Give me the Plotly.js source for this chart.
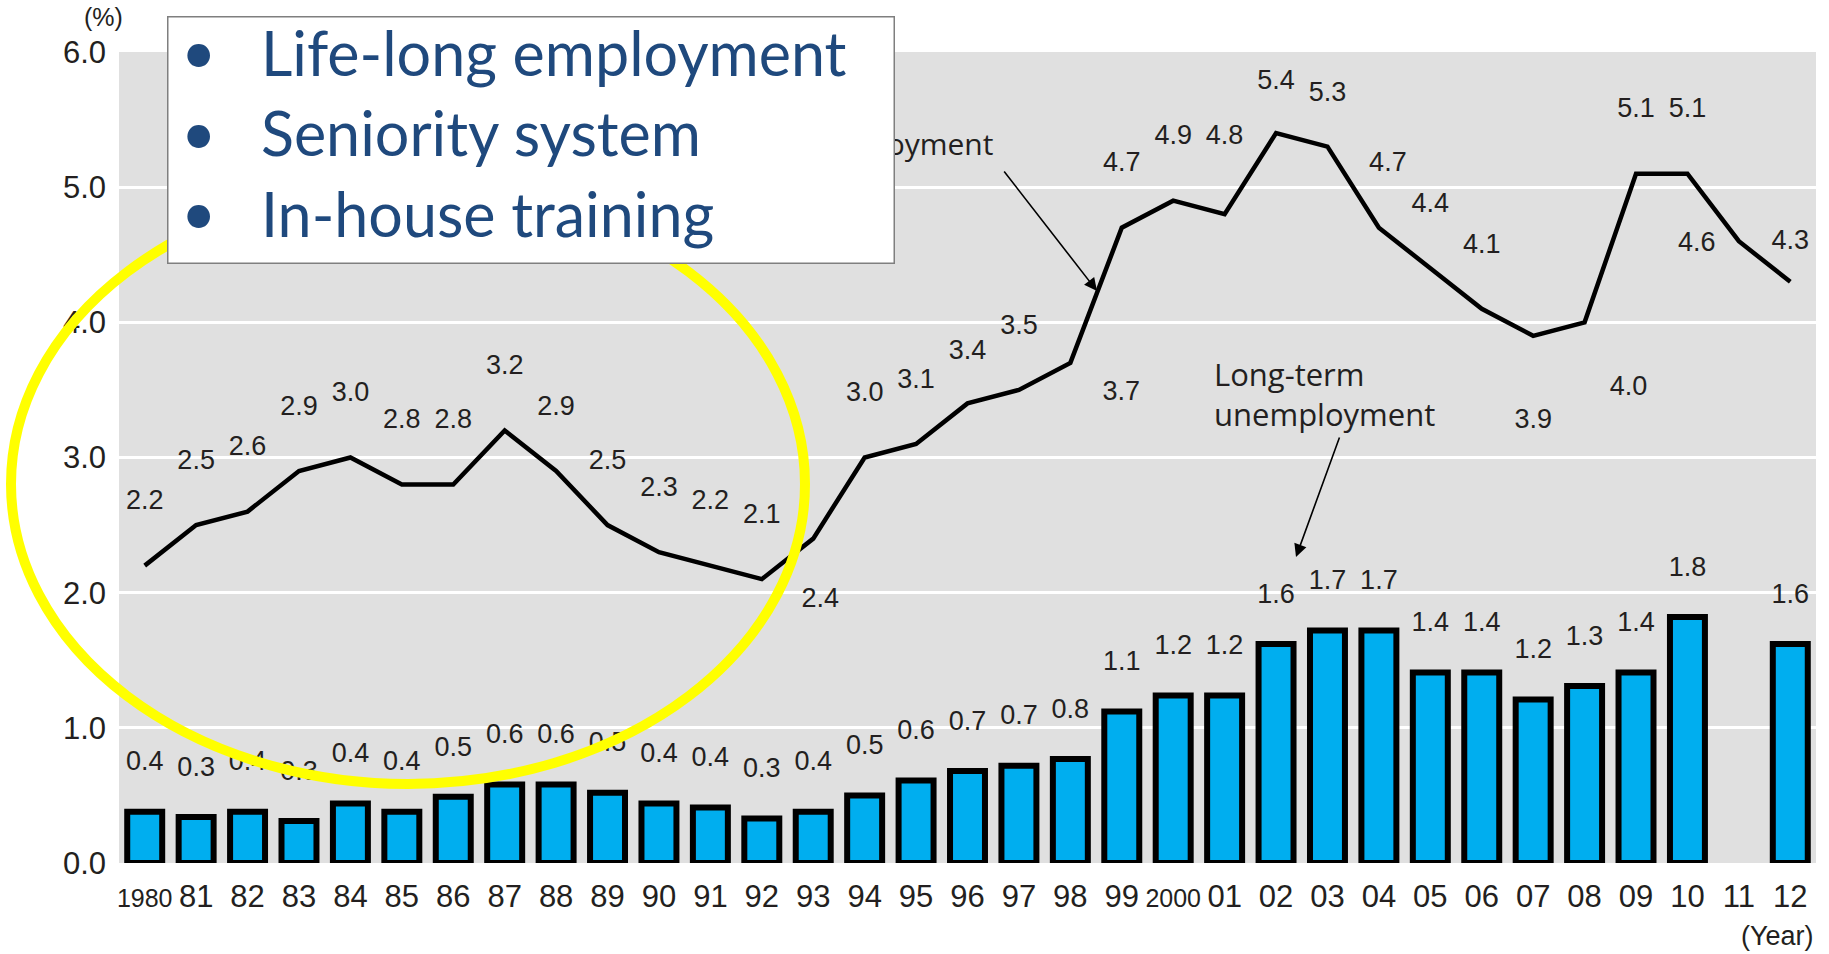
<!DOCTYPE html>
<html>
<head>
<meta charset="utf-8">
<script src="https://cdn.plot.ly/plotly-3.0.1.min.js"></script>
<style>
  html, body { margin: 0; padding: 0; background: #ffffff; }
  #chart { width: 1829px; height: 954px; }
</style>
</head>
<body>
<div id="chart"></div>
<script>
// ---------------- data ----------------
const years = [1980, 1981, 1982, 1983, 1984, 1985, 1986, 1987, 1988, 1989, 1990, 1991, 1992,
               1993, 1994, 1995, 1996, 1997, 1998, 1999, 2000, 2001, 2002, 2003, 2004, 2005,
               2006, 2007, 2008, 2009, 2010, 2011, 2012];
const yearTickLabels = ['1980', '81', '82', '83', '84', '85', '86', '87', '88', '89', '90', '91', '92',
                        '93', '94', '95', '96', '97', '98', '99', '2000', '01', '02', '03', '04', '05',
                        '06', '07', '08', '09', '10', '11', '12'];
// Unemployment rate (%)
const unemploymentRate = [2.2, 2.5, 2.6, 2.9, 3.0, 2.8, 2.8, 3.2, 2.9, 2.5, 2.3, 2.2, 2.1,
                          2.4, 3.0, 3.1, 3.4, 3.5, 3.7, 4.7, 4.9, 4.8, 5.4, 5.3, 4.7, 4.4,
                          4.1, 3.9, 4.0, 5.1, 5.1, 4.6, 4.3];
// Long-term unemployment rate (%) (2011 not shown)
const longTermRate = [0.38, 0.34, 0.38, 0.31, 0.44, 0.38, 0.49, 0.58, 0.58, 0.52, 0.44, 0.41, 0.33,
                      0.38, 0.50, 0.61, 0.68, 0.72, 0.77, 1.12, 1.24, 1.24, 1.62, 1.72, 1.72, 1.41,
                      1.41, 1.21, 1.31, 1.41, 1.82, null, 1.62];
const yTickValues = [0, 1, 2, 3, 4, 5, 6];
const bulletItems = ['Life-long employment', 'Seniority system', 'In-house training'];

// ---------------- geometry / style ----------------
const W = 1829, H = 954;
const M = { l: 119, r: 13, t: 52, b: 91 };
const PW = W - M.l - M.r, PH = H - M.t - M.b;
const Y_MAX = 6;
const pxX = X => (X - M.l) / PW;            // page pixel -> paper x
const pxY = Y => (H - M.b - Y) / PH;        // page pixel -> paper y
const dxYears = dx => dx / (PW / years.length);
const dyUnits = dy => dy * Y_MAX / PH;

const NUM_FONT = '"Liberation Sans", Arial, sans-serif';
const WORD_FONT = '"Open Sans", "Liberation Sans", sans-serif';
const INK = '#231f20';

// label placement (page pixels: [dx right, dy up]) relative to each point
const LINE_LABEL_DEFAULT = [0, 63];
const lineLabelShift = {
  1993: [7, -62], 1996: [0, 51], 1998: [51, -30], 2001: [0, 77], 2002: [0, 51],
  2003: [0, 52], 2004: [9, 63], 2007: [0, -85], 2008: [44, -66], 2011: [-42, -3], 2012: [0, 40]
};
const BAR_LABEL_DY = 48;

// ---------------- traces ----------------
const lineLabelX = [], lineLabelY = [], lineLabelT = [];
years.forEach((yr, i) => {
  const s = lineLabelShift[yr] || LINE_LABEL_DEFAULT;
  lineLabelX.push(yr + dxYears(s[0]));
  lineLabelY.push(unemploymentRate[i] + dyUnits(s[1]));
  lineLabelT.push(unemploymentRate[i].toFixed(1));
});
const barLabelX = [], barLabelY = [], barLabelT = [];
years.forEach((yr, i) => {
  if (longTermRate[i] == null) return;
  barLabelX.push(yr);
  barLabelY.push(longTermRate[i] + dyUnits(BAR_LABEL_DY));
  barLabelT.push(longTermRate[i].toFixed(1));
});

const traces = [
  {
    type: 'bar', x: years, y: longTermRate, width: 0.68,
    marker: { color: '#00aeef', line: { color: '#000000', width: 6 } },
    hoverinfo: 'x+y', showlegend: false
  },
  {
    type: 'scatter', mode: 'lines', x: years, y: unemploymentRate,
    line: { color: '#000000', width: 4.5 }, showlegend: false
  },
  {
    type: 'scatter', mode: 'text', x: lineLabelX, y: lineLabelY, text: lineLabelT,
    textposition: 'middle center', textfont: { family: NUM_FONT, size: 27, color: INK },
    hoverinfo: 'skip', showlegend: false
  },
  {
    type: 'scatter', mode: 'text', x: barLabelX, y: barLabelY, text: barLabelT,
    textposition: 'middle center', textfont: { family: NUM_FONT, size: 27, color: INK },
    hoverinfo: 'skip', showlegend: false
  }
];

// ---------------- annotations ----------------
const annotations = [
  { xref: 'paper', yref: 'paper', x: pxX(1212), y: pxY(394), xanchor: 'left', yanchor: 'middle',
    align: 'left', showarrow: false, text: 'Long-term<br>unemployment',
    font: { family: WORD_FONT, size: 31, color: INK } },
  { xref: 'paper', yref: 'paper', x: pxX(1296), y: pxY(557), ax: 1340 - 1296, ay: 436 - 557,
    text: '', showarrow: true, arrowhead: 2, arrowsize: 1.6, arrowwidth: 1.6, arrowcolor: '#000' },
  { xref: 'paper', yref: 'paper', x: pxX(995), y: pxY(143), xanchor: 'right', yanchor: 'middle',
    showarrow: false, text: 'Total unemployment',
    font: { family: WORD_FONT, size: 30, color: INK } },
  { xref: 'paper', yref: 'paper', x: pxX(1097), y: pxY(291), ax: 1003 - 1097, ay: 170 - 291,
    text: '', showarrow: true, arrowhead: 2, arrowsize: 1.6, arrowwidth: 1.6, arrowcolor: '#000' },
  // white text box with bullets (drawn over the circle and the hidden label)
  { xref: 'paper', yref: 'paper', x: pxX(167), y: pxY(16), xanchor: 'left', yanchor: 'top',
    showarrow: false, text: ' ', width: 725, height: 245, borderpad: 0,
    bgcolor: '#ffffff', bordercolor: '#7f7f7f', borderwidth: 1.5 },
  { xref: 'paper', yref: 'paper', x: pxX(103), y: pxY(17), xanchor: 'center', yanchor: 'middle',
    showarrow: false, text: '(%)', font: { family: NUM_FONT, size: 25, color: INK } },
  { xref: 'paper', yref: 'paper', x: pxX(1816), y: pxY(936), xanchor: 'right', yanchor: 'middle',
    showarrow: false, text: '(Year)', font: { family: NUM_FONT, size: 27, color: INK } }
];
const bulletRowsY = [53, 133, 213];
bulletItems.forEach((item, i) => {
  annotations.push({ xref: 'paper', yref: 'paper', x: pxX(198), y: pxY(bulletRowsY[i] - 2),
    xanchor: 'center', yanchor: 'middle', showarrow: false, text: '•',
    font: { family: 'Lato, sans-serif', size: 61, color: '#1f497d' } });
  annotations.push({ xref: 'paper', yref: 'paper', x: pxX(259), y: pxY(bulletRowsY[i]),
    xanchor: 'left', yanchor: 'middle', showarrow: false, text: item,
    font: { family: 'Lato, sans-serif', size: 61, color: '#1f497d' } });
});

// ---------------- layout ----------------
const tickText = yearTickLabels.map(t =>
  t.length === 4 ? '<span style="font-size:25px">' + t + '</span>' : t);

const layout = {
  width: W, height: H,
  margin: M,
  paper_bgcolor: '#ffffff',
  plot_bgcolor: '#e0e0e0',
  showlegend: false,
  xaxis: {
    type: 'linear', range: [years[0] - 0.5, years[years.length - 1] + 0.5],
    tickmode: 'array', tickvals: years, ticktext: tickText,
    showgrid: false, zeroline: false, showline: false, ticks: '',
    ticklabelstandoff: 12,
    tickfont: { family: NUM_FONT, size: 31, color: INK }
  },
  yaxis: {
    range: [0, Y_MAX], tickmode: 'array', tickvals: yTickValues,
    ticktext: yTickValues.map(v => v.toFixed(1)),
    showgrid: true, gridcolor: '#ffffff', gridwidth: 3,
    zeroline: false, showline: false, ticks: '',
    ticklabelstandoff: 12,
    tickfont: { family: NUM_FONT, size: 31, color: INK }
  },
  shapes: [
    { type: 'circle', xref: 'paper', yref: 'paper', layer: 'above',
      x0: pxX(11), x1: pxX(805), y0: pxY(784), y1: pxY(184),
      line: { color: '#ffff00', width: 10 } }
  ],
  annotations: annotations
};

Plotly.newPlot('chart', traces, layout, { staticPlot: true, displayModeBar: false });
</script>
</body>
</html>
